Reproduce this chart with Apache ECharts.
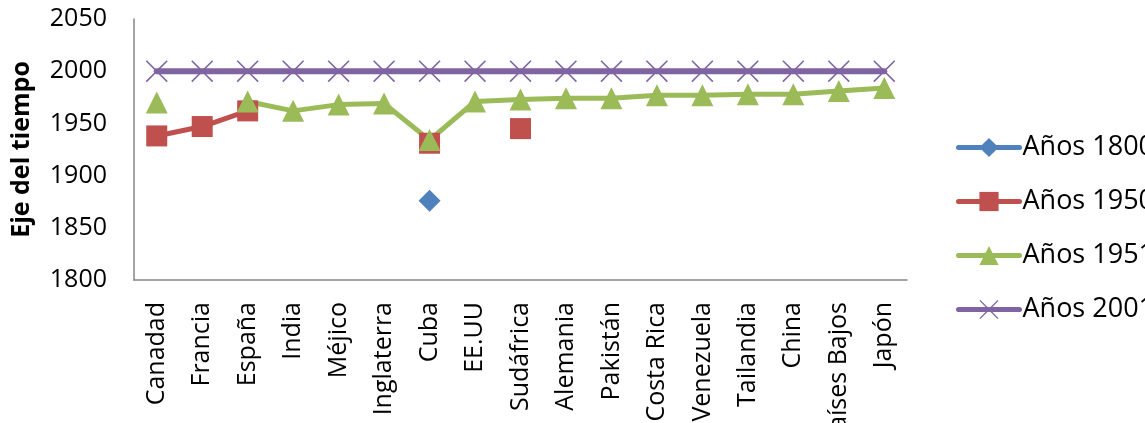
<!DOCTYPE html>
<html>
<head>
<meta charset="utf-8">
<script src="https://cdn.jsdelivr.net/npm/echarts@6/dist/echarts.min.js"></script>
<style>
html,body{margin:0;padding:0;background:#fff;}
#c{width:1145px;height:423px;}
</style>
</head>
<body>
<div id="c"></div>
<script>
const categories = ["Canadad","Francia","España","India","Méjico","Inglaterra","Cuba","EE.UU","Sudáfrica","Alemania","Pakistán","Costa Rica","Venezuela","Tailandia","China","Países Bajos","Japón"];
const anos1800 = [null,null,null,null,null,null,1876,null,null,null,null,null,null,null,null,null,null];
const anos1950 = [1938,1947,1962,null,null,null,1931,null,1945,null,null,null,null,null,null,null,null];
const anos1951 = [1970,null,1971,1962,1968,1969,1934,1971,1973,1974,1974,1977,1977,1978,1978,1981,1984];
const anos2001 = [2000,2000,2000,2000,2000,2000,2000,2000,2000,2000,2000,2000,2000,2000,2000,2000,2000];
const seriesNames = ["Años 1800","Años 1950","Años 1951","Años 2001"];
const yTicks = {min:1800, max:2050, step:50};

const FONT = "'Open Sans', sans-serif";
const crossPath = 'path://M0,1L1,0L10,9L19,0L20,1L11,10L20,19L19,20L10,11L1,20L0,19L9,10Z';
const colors = ['#4F81BD','#C0504D','#9BBB59','#8064A2'];

function mk(name, data, color, symbol, size, width){
  return {
    name, type:'line', data, symbol, symbolSize:size, showSymbol:true, showAllSymbol:true,
    connectNulls:false, animation:false,
    lineStyle:{color, width, cap:'round', join:'round'},
    itemStyle:{color},
    emphasis:{disabled:true}
  };
}

const chart = echarts.init(document.getElementById('c'));
chart.setOption({
  animation:false,
  color: colors,
  grid:{left:134, top:19, right:238, bottom:143, containLabel:false, outerBoundsMode:'none'},
  legend:{
    orient:'vertical', left:951, top:129,
    itemWidth:61, itemHeight:24, itemGap:27,
    lineStyle:{width:5, cap:'round'},
    textStyle:{fontFamily:FONT, fontSize:27, color:'#000', lineHeight:25, padding:[0,0,0,-2]},
    data: seriesNames
  },
  xAxis:{
    type:'category', data:categories, boundaryGap:true,
    axisLine:{lineStyle:{color:'#868686', width:1.5}},
    axisTick:{show:false},
    axisLabel:{rotate:90, interval:0, fontFamily:FONT, fontSize:25, color:'#000', margin:22}
  },
  yAxis:{
    type:'value', min:yTicks.min, max:yTicks.max, interval:yTicks.step,
    name:'Eje del tiempo', nameLocation:'middle', nameGap:100, nameRotate:90,
    nameTextStyle:{fontFamily:FONT, fontSize:25, fontWeight:'bold', color:'#000'},
    axisLine:{show:true, lineStyle:{color:'#868686', width:1.5}},
    axisTick:{show:false},
    splitLine:{show:false},
    axisLabel:{fontFamily:FONT, fontSize:25, color:'#000', margin:27, formatter: v => String(v)}
  },
  series:[
    mk(seriesNames[0], anos1800, colors[0], 'diamond', 22, 5),
    mk(seriesNames[1], anos1950, colors[1], 'rect', 21, 5),
    mk(seriesNames[2], anos1951, colors[2], 'triangle', 22, 5),
    mk(seriesNames[3], anos2001, colors[3], crossPath, 22, 6)
  ]
});
</script>
</body>
</html>
